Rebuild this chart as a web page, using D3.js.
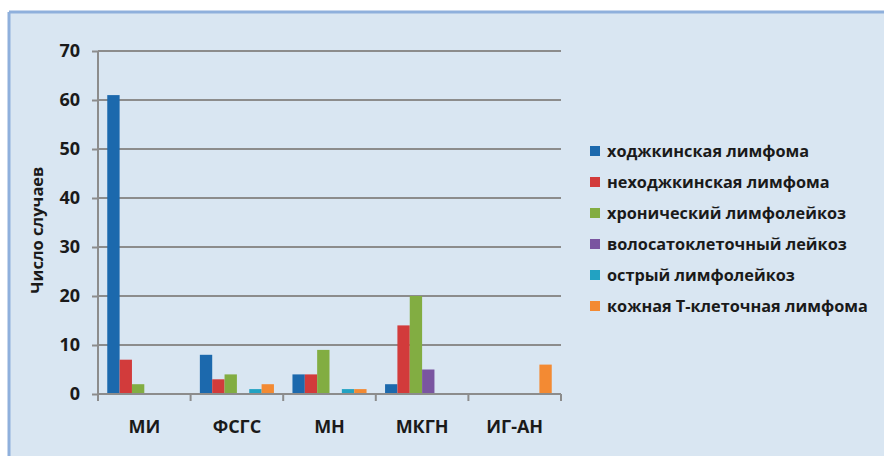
<!DOCTYPE html>
<html><head><meta charset="utf-8">
<script src="https://cdn.jsdelivr.net/npm/d3@7"></script>
<style>body{margin:0;background:#fff}svg{display:block}</style>
</head><body>
<svg id="c" width="884" height="456"></svg>
<script>
const categories = ["МИ", "ФСГС", "МН", "МКГН", "ИГ-АН"];
const seriesNames = ["ходжкинская лимфома", "неходжкинская лимфома", "хронический лимфолейкоз", "волосатоклеточный лейкоз", "острый лимфолейкоз", "кожная Т-клеточная лимфома"];
const hodgkin = [61, 8, 4, 2, 0];
const nonHodgkin = [7, 3, 4, 14, 0];
const chronicLL = [2, 4, 9, 20, 0];
const hairyCell = [0, 0, 0, 5, 0];
const acuteLL = [0, 1, 1, 0, 0];
const cutaneousT = [0, 2, 1, 0, 6];
const seriesValues = [hodgkin, nonHodgkin, chronicLL, hairyCell, acuteLL, cutaneousT];
const colors = ["#1c69ad", "#d23b3b", "#82ad42", "#7a55a0", "#22a2c2", "#f38a33"];
const yTicks = [0, 10, 20, 30, 40, 50, 60, 70];
const yTitle = "Число случаев";

const svg = d3.select("#c");
const font = "'Open Sans', 'DejaVu Sans', sans-serif";

// panel background
svg.append("rect").attr("x", 9).attr("y", 12).attr("width", 875).attr("height", 444)
  .attr("fill", "#d9e6f2");
svg.append("line").attr("x1", 9).attr("x2", 884).attr("y1", 12).attr("y2", 12)
  .attr("stroke", "#8fb0dc").attr("stroke-width", 3);
svg.append("line").attr("x1", 9).attr("x2", 9).attr("y1", 12).attr("y2", 456)
  .attr("stroke", "#8fb0dc").attr("stroke-width", 3);

const x0 = 98, x1 = 561, yTop = 51, yBot = 394;
const x = d3.scaleBand().domain(categories).range([x0, x1]).paddingInner(0).paddingOuter(0);
const xs = d3.scaleBand().domain(d3.range(seriesNames.length)).range([0, x.bandwidth()]).paddingOuter(0.75);
const y = d3.scaleLinear().domain([0, 70]).range([yBot, yTop]);

// gridlines
svg.append("g").selectAll("line").data(yTicks.filter(d => d > 0)).join("line")
  .attr("x1", x0).attr("x2", x1).attr("y1", d => y(d)).attr("y2", d => y(d))
  .attr("stroke", "#8c8c8c").attr("stroke-width", 2);

// bars
const cat = svg.append("g").selectAll("g").data(categories).join("g")
  .attr("transform", c => `translate(${x(c)},0)`);
cat.selectAll("rect").data((c, ci) => seriesValues.map((s, si) => ({si, v: s[ci]})).filter(d => d.v > 0))
  .join("rect")
  .attr("x", d => xs(d.si)).attr("width", xs.bandwidth())
  .attr("y", d => y(d.v)).attr("height", d => yBot - y(d.v))
  .attr("fill", d => colors[d.si]);

// y axis
const yAxis = d3.axisLeft(y).tickValues(yTicks).tickSize(6).tickPadding(12);
const gy = svg.append("g").attr("transform", `translate(${x0},0)`).call(yAxis);
gy.select(".domain").attr("stroke", "#8c8c8c").attr("stroke-width", 2).attr("d", `M0,${yBot+6}V${yTop}`);
gy.selectAll(".tick line").attr("stroke", "#8c8c8c").attr("stroke-width", 2);
gy.selectAll(".tick text").attr("font-family", font).attr("font-size", 18).attr("font-weight", "bold").attr("fill", "#1a1a1a");

// x axis
const xAxis = d3.axisBottom(x).tickSize(0).tickPadding(26);
const gx = svg.append("g").attr("transform", `translate(0,${yBot})`).call(xAxis);
gx.select(".domain").attr("stroke", "#8c8c8c").attr("stroke-width", 2).attr("d", `M${x0},0H${x1}`);
gx.selectAll(".tick text").attr("font-family", font).attr("font-size", 18).attr("font-weight", "bold").attr("fill", "#1a1a1a");
svg.append("g").selectAll("line").data(categories.map(c => x(c)).concat([x1])).join("line")
  .attr("x1", d => d).attr("x2", d => d).attr("y1", yBot).attr("y2", yBot + 7)
  .attr("stroke", "#8c8c8c").attr("stroke-width", 2);

// y title
svg.append("text").attr("transform", `translate(43,230) rotate(-90)`)
  .attr("text-anchor", "middle").attr("font-family", font).attr("font-size", 16.5).attr("font-weight", "bold")
  .attr("fill", "#1a1a1a").text(yTitle);

// legend
const lg = svg.append("g").selectAll("g").data(seriesNames).join("g")
  .attr("transform", (d, i) => `translate(590,${151 + i * 31})`);
lg.append("rect").attr("x", 0).attr("y", -5).attr("width", 10).attr("height", 10).attr("fill", (d, i) => colors[i]);
lg.append("text").attr("x", 17).attr("y", 0).attr("dy", "0.35em")
  .attr("font-family", font).attr("font-size", 16.3).attr("font-weight", "bold").attr("fill", "#1a1a1a").text(d => d);
</script>
</body></html>
